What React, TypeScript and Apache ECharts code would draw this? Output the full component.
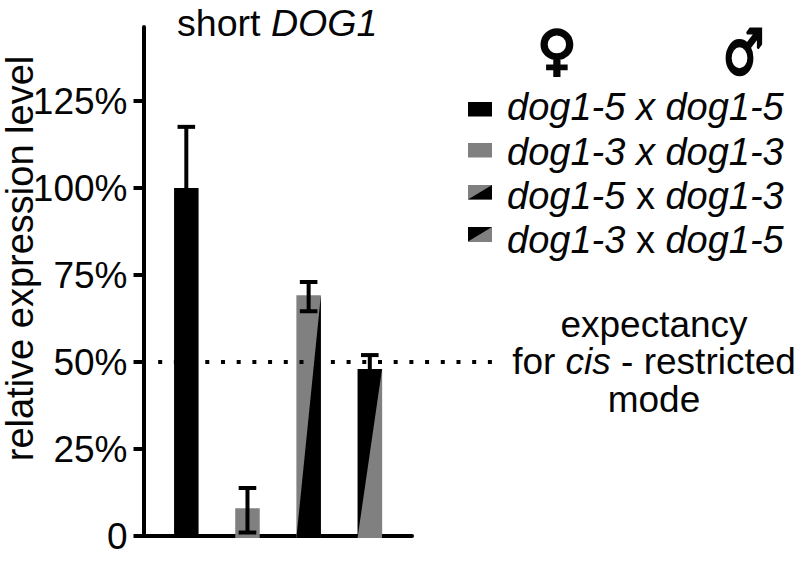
import React, { useEffect, useRef } from "react";
import * as echarts from "echarts";

const positions = [0, 1, 2, 3];
const barValues = [100, 8, 69.2, 48];
const errorHigh = [117.6, 13.8, 73, 52];
const errorLow = [100, 1, 64.6, 48];
const barStyles = ["black", "grey", "greyBlack", "blackGrey"];
const yTicks = [0, 25, 50, 75, 100, 125];
const expectancyLine = [[-0.46, 50, 5.07]];
const legendLabels = [
  ["dog1-5", "x", "dog1-5"],
  ["dog1-3", "x", "dog1-3"],
  ["dog1-5", "x", "dog1-3"],
  ["dog1-3", "x", "dog1-5"],
];
const legendTops = [102, 143, 185, 227];
const legendTextCentres = [107, 151.5, 195.5, 240];
const legendStyles = ["black", "grey", "greyBlack2", "blackGrey2"];

const BLACK = "#000000";
const GREY = "#808080";
const TEXT = "#050505";
const FONT = "'Liberation Sans', Arial, sans-serif";
const SIZE = 38;
const TITLE_SIZE = 37.6;
const NOTE_SIZE = 37;

function swatch(kind: string, x: number, y: number, w: number, h: number) {
  const base = kind === "black" || kind === "blackGrey2" ? BLACK : GREY;
  const out: any[] = [{ type: "rect", shape: { x, y, width: w, height: h }, style: { fill: base } }];
  if (kind === "greyBlack2") {
    out.push({
      type: "polygon",
      shape: { points: [[x, y + h], [x + w, y], [x + w, y + h]] },
      style: { fill: BLACK },
    });
  }
  if (kind === "blackGrey2") {
    out.push({
      type: "polygon",
      shape: { points: [[x, y + h], [x + w, y], [x + w, y + h]] },
      style: { fill: GREY },
    });
  }
  return out;
}

function renderBar(params: any, api: any) {
  const i = api.value(0);
  const [cx, top] = api.coord([i, api.value(1)]);
  const [, zero] = api.coord([i, 0]);
  const [, hi] = api.coord([i, api.value(2)]);
  const [, lo] = api.coord([i, api.value(3)]);
  const w = 24.5;
  const bottom = zero + 2;
  const left = cx - w / 2;
  const kind = barStyles[params.dataIndex];
  const base = kind === "black" || kind === "blackGrey" ? BLACK : GREY;
  const children: any[] = [
    { type: "rect", shape: { x: left, y: top, width: w, height: bottom - top }, style: { fill: base } },
  ];
  if (kind === "greyBlack" || kind === "blackGrey") {
    children.push({
      type: "polygon",
      shape: { points: [[left, bottom], [left + w, top], [left + w, bottom]] },
      style: { fill: kind === "greyBlack" ? BLACK : GREY },
    });
  }
  const stroke = { stroke: BLACK, lineWidth: 4, fill: "none" };
  const cap = 8.8;
  children.push({ type: "line", shape: { x1: cx, y1: hi, x2: cx, y2: lo }, style: stroke });
  children.push({ type: "line", shape: { x1: cx - cap, y1: hi, x2: cx + cap, y2: hi }, style: stroke });
  if (lo > top + 0.5 || lo < top - 0.5) {
    children.push({ type: "line", shape: { x1: cx - cap, y1: lo, x2: cx + cap, y2: lo }, style: stroke });
  }
  return { type: "group", children };
}

function renderDotted(_params: any, api: any) {
  const [x1, y] = api.coord([api.value(0), api.value(1)]);
  const [x2] = api.coord([api.value(2), api.value(1)]);
  return {
    type: "line",
    shape: { x1, y1: y, x2, y2: y },
    style: { stroke: BLACK, lineWidth: 4, lineDash: [4, 11.7], fill: "none" },
  };
}

export default function App() {
  const ref = useRef<HTMLDivElement>(null);
  useEffect(() => {
    const chart = echarts.init(ref.current!, undefined, { renderer: "svg" });
    const graphics: any[] = [];
    legendTops.forEach((top, i) => {
      graphics.push(...swatch(legendStyles[i], 468, top, 24, 14.5));
      const [a, x, b] = legendLabels[i];
      graphics.push({
        type: "text",
        x: 507,
        y: legendTextCentres[i],
        style: {
          text: `{i|${a} }{${i < 2 ? "i" : "n"}|${x}}{i| ${b}}`,
          verticalAlign: "middle",
          rich: {
            i: { fontFamily: FONT, fontStyle: "italic", fontSize: SIZE, fill: TEXT },
            n: { fontFamily: FONT, fontSize: SIZE, fill: TEXT },
          },
        },
      });
    });
    graphics.push(
      {
        type: "text",
        x: 557,
        y: 50,
        style: {
          text: "\u2640",
          font: "bold 54px 'DejaVu Sans'",
          fill: TEXT,
          stroke: TEXT,
          lineWidth: 2.5,
          align: "center",
          verticalAlign: "middle",
        },
      },
      {
        type: "text",
        x: 743.5,
        y: 52,
        scaleX: 0.82,
        scaleY: 1.12,
        style: {
          text: "\u2642",
          font: "bold 56px 'DejaVu Sans'",
          fill: TEXT,
          stroke: TEXT,
          lineWidth: 2.5,
          align: "center",
          verticalAlign: "middle",
        },
      },
      {
        type: "text",
        x: 654,
        y: 324,
        style: { text: "expectancy", font: `${NOTE_SIZE}px ${FONT}`, fill: TEXT, align: "center", verticalAlign: "middle" },
      },
      {
        type: "text",
        x: 654,
        y: 361.5,
        style: {
          text: "{n|for }{i|cis}{n| - restricted}",
          align: "center",
          verticalAlign: "middle",
          rich: {
            n: { fontFamily: FONT, fontSize: NOTE_SIZE, fill: TEXT },
            i: { fontFamily: FONT, fontSize: NOTE_SIZE, fontStyle: "italic", fill: TEXT },
          },
        },
      },
      {
        type: "text",
        x: 654,
        y: 399,
        style: { text: "mode", font: `${NOTE_SIZE}px ${FONT}`, fill: TEXT, align: "center", verticalAlign: "middle" },
      }
    );
    chart.setOption({
      animation: false,
      backgroundColor: "#ffffff",
      title: {
        left: 177,
        top: 4,
        padding: 0,
        text: "{n|short }{i|DOG1}",
        textStyle: {
          rich: {
            n: { fontFamily: FONT, fontSize: TITLE_SIZE, fontWeight: "normal", color: TEXT },
            i: { fontFamily: FONT, fontSize: TITLE_SIZE, fontWeight: "normal", fontStyle: "italic", color: TEXT },
          },
        },
      },
      grid: { left: 143.5, top: 27, width: 268.5, height: 509, outerBoundsMode: "none" },
      xAxis: {
        type: "value",
        min: -0.7,
        max: 3.69,
        show: true,
        axisLine: { show: true, onZero: false, lineStyle: { color: BLACK, width: 4 } },
        axisTick: { show: false },
        axisLabel: { show: false },
        splitLine: { show: false },
      },
      yAxis: {
        type: "value",
        min: 0,
        max: 146.3,
        name: "relative expression level",
        nameLocation: "middle",
        nameRotate: 90,
        nameGap: 105,
        nameMoveOverlap: false,
        nameTextStyle: { fontFamily: FONT, fontSize: SIZE, color: TEXT, padding: [0, 0, 0, 46] },
        axisLine: { show: true, onZero: false, lineStyle: { color: BLACK, width: 4 } },
        axisTick: { show: true, length: 10, customValues: yTicks, lineStyle: { color: BLACK, width: 4 } },
        axisLabel: {
          customValues: yTicks,
          margin: 16,
          fontFamily: FONT,
          fontSize: 37,
          color: TEXT,
          formatter: (v: number) => (v === 0 ? "0" : `${v}%`),
        },
        splitLine: { show: false },
      },
      graphic: graphics,
      series: [
        {
          type: "custom",
          renderItem: renderBar,
          clip: false,
          z: 3,
          data: positions.map((p, i) => [p, barValues[i], errorHigh[i], errorLow[i]]),
          encode: { x: 0, y: 1 },
        },
        {
          type: "custom",
          renderItem: renderDotted,
          clip: false,
          silent: true,
          z: 4,
          data: expectancyLine,
          encode: { x: [0, 2], y: 1 },
        },
      ],
    });
    return () => chart.dispose();
  }, []);
  return <div ref={ref} style={{ width: 810, height: 563, position: "absolute", left: 0, top: 0 }} />;
}
